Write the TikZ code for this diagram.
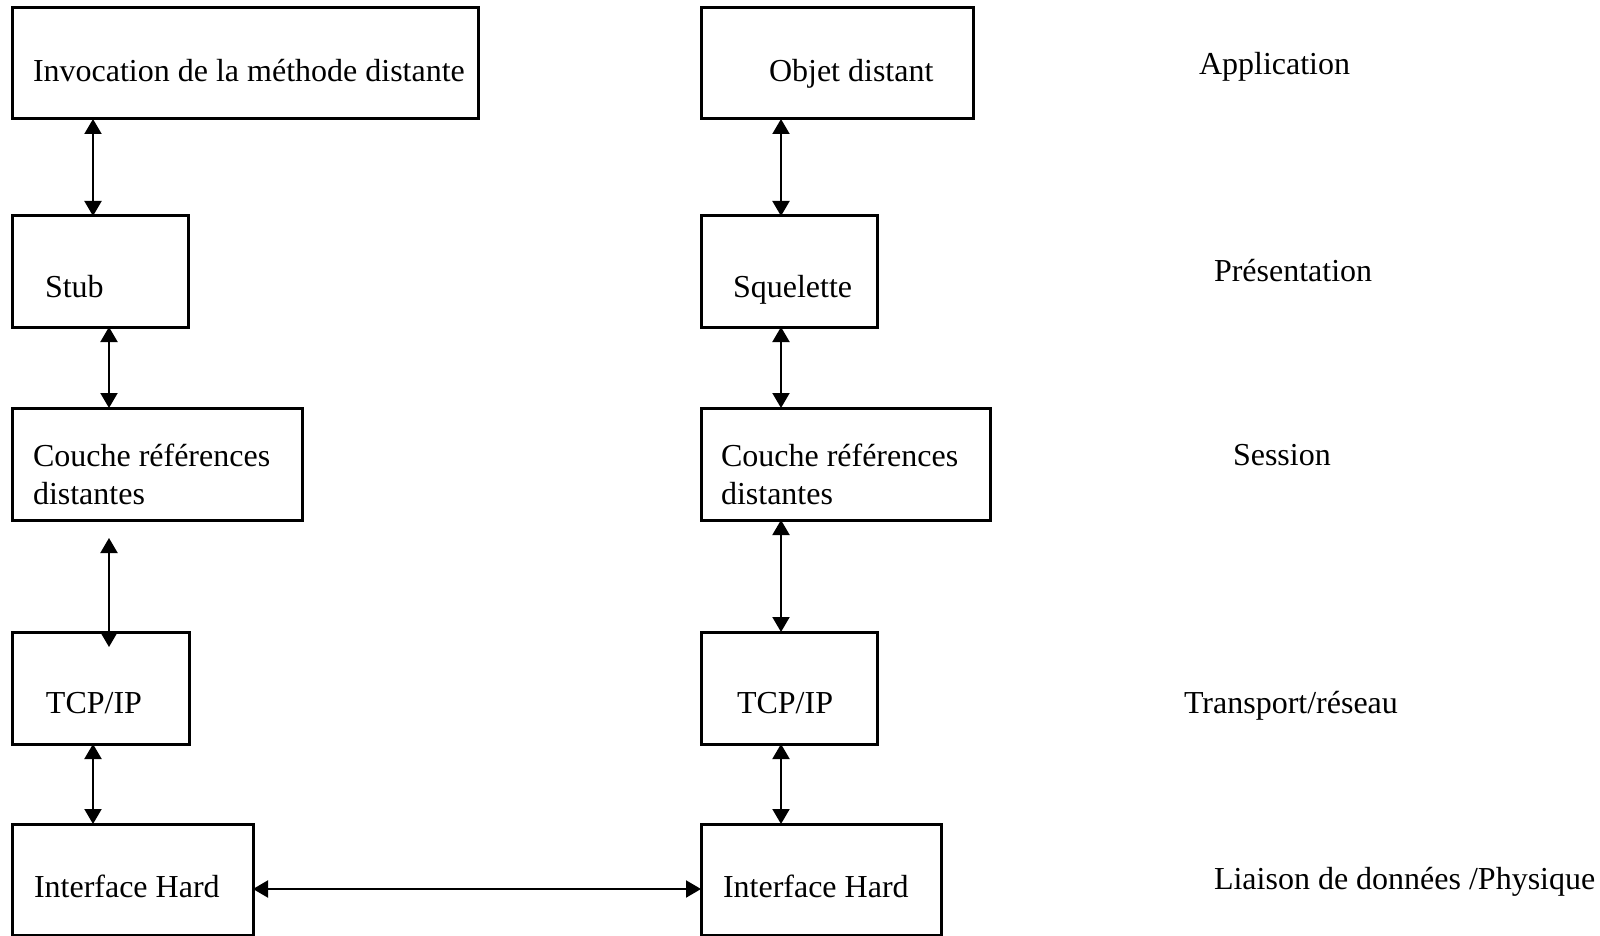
\documentclass[tikz,border=0pt]{standalone}
\usepackage{fontspec}
\setmainfont{Liberation Serif}
\usetikzlibrary{arrows.meta,fit}
\begin{document}
\begin{tikzpicture}[x=0.5pt,y=-0.5pt,
  box/.style={draw,line width=1.5pt,inner sep=0pt,outer sep=0pt},
  txt/.style={inner sep=0pt,outer sep=0pt,anchor=base west,font=\fontsize{16}{19}\selectfont},
  ml/.style={txt,align=left},
  conn/.style={line width=1pt,{Triangle[length=7.5pt,width=8.5pt]}-{Triangle[length=7.5pt,width=8.5pt]}}]
\useasboundingbox (0,0) rectangle (1600,936);
% left column boxes
\node[box,fit={(12,8) (478,119)}] (A) {};
\node[box,fit={(12,216) (188,327)}] (B) {};
\node[box,fit={(12,408) (302,520)}] (C) {};
\node[box,fit={(12,632) (189,744)}] (D) {};
\node[box,fit={(12,824) (253,935)}] (E) {};
% right column boxes
\node[box,fit={(701,8) (973,119)}] (F) {};
\node[box,fit={(701,216) (877,327)}] (G) {};
\node[box,fit={(701,408) (990,520)}] (H) {};
\node[box,fit={(701,632) (877,744)}] (I) {};
\node[box,fit={(701,824) (941,935)}] (J) {};
% texts
\node[txt] (tA) at (33,82) {Invocation de la méthode distante};
\node[txt] (tB) at (45,297) {Stub};
\node[ml] (tC) at (33,504) {Couche références\\distantes};
\node[txt] (tD) at (46,713) {TCP/IP};
\node[txt] (tE) at (34,897) {Interface Hard};
\node[txt] (tF) at (769,82) {Objet distant};
\node[txt] (tG) at (733,297) {Squelette};
\node[ml] (tH) at (721,504) {Couche références\\distantes};
\node[txt] (tI) at (737,713) {TCP/IP};
\node[txt] (tJ) at (723,897) {Interface Hard};
% layer labels
\node[txt] (l1) at (1199,75) {Application};
\node[txt] (l2) at (1214,282) {Présentation};
\node[txt] (l3) at (1233,465) {Session};
\node[txt] (l4) at (1184,713) {Transport/réseau};
\node[txt] (l5) at (1214,889) {Liaison de données /Physique};
% connectors
\draw[conn] (A.south -| 93,0) -- (B.north -| 93,0);
\draw[conn] (B.south -| 109,0) -- (C.north -| 109,0);
\draw[conn] ([yshift=-9pt]C.south -| 109,0) -- ([yshift=-7.5pt]D.north -| 109,0);
\draw[conn] (D.south -| 93,0) -- (E.north -| 93,0);
\draw[conn] (F.south -| 781,0) -- (G.north -| 781,0);
\draw[conn] (G.south -| 781,0) -- (H.north -| 781,0);
\draw[conn] (H.south -| 781,0) -- (I.north -| 781,0);
\draw[conn] (I.south -| 781,0) -- (J.north -| 781,0);
\draw[conn] (E.east |- 0,889) -- (J.west |- 0,889);
\end{tikzpicture}
\end{document}
